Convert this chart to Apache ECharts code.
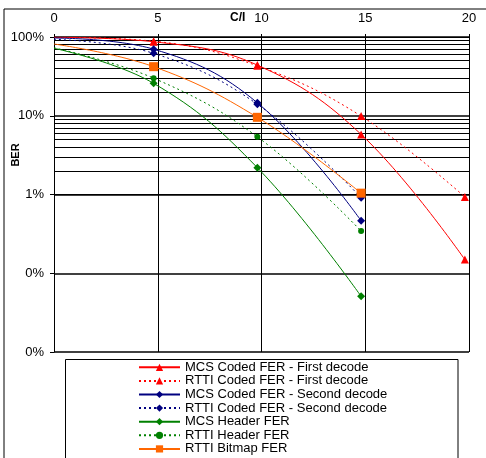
<!DOCTYPE html>
<html>
<head>
<meta charset="utf-8">
<script src="https://cdn.jsdelivr.net/npm/echarts@6/dist/echarts.min.js"></script>
<style>
html,body{margin:0;padding:0;background:#fff;}
#chart{width:486px;height:458px;}
</style>
</head>
<body>
<div id="chart"></div>
<script>
// ---- data ----
const xVals = [0, 4.8, 9.8, 14.8, 19.8];
const xTicks = [0, 5, 10, 15, 20];
const yTicks = [1, 0.1, 0.01, 0.001, 0.0001];
const mcsFirst   = [0.99, 0.87, 0.44, 0.058, 0.00149];
const rttiFirst  = [0.995, 0.885, 0.43, 0.099, 0.0093];
const mcsSecond  = [0.97, 0.70, 0.146, 0.00465];
const rttiSecond = [0.935, 0.62, 0.14, 0.0091];
const mcsHeader  = [0.72, 0.258, 0.0219, 0.00051];
const rttiHeader = [0.73, 0.30, 0.054, 0.00344];
const rttiBitmap = [0.815, 0.42, 0.0955, 0.0104];
const seriesNames = [
  'MCS Coded FER - First decode',
  'RTTI Coded FER - First decode',
  'MCS Coded FER - Second decode',
  'RTTI Coded FER - Second decode',
  'MCS Header FER',
  'RTTI Header FER',
  'RTTI Bitmap FER'
];

// minor gridlines (2..9 within each decade)
const minorGrid = [];
[0.0001, 0.001, 0.01, 0.1].forEach(d => { for (let k = 2; k <= 9; k++) minorGrid.push(+(d * k).toPrecision(3)); });

const FONT = 'Liberation Sans, Arial, sans-serif';

function pts(vals) {
  return vals.map((v, i) => i === 0 ? { value: [xVals[i], v], symbol: 'none' } : [xVals[i], v]);
}
function mk(name, vals, color, dashed, symbol, size) {
  return {
    name: name, type: 'line', smooth: 0.4, data: pts(vals), z: 5,
    symbol: symbol, symbolSize: size, showSymbol: true,
    itemStyle: { color: color },
    lineStyle: { color: color, width: 1, type: dashed ? [2, 3] : 'solid' },
    emphasis: { disabled: true }, animation: false
  };
}

const chart = echarts.init(document.getElementById('chart'), null, { renderer: 'canvas' });
chart.setOption({
  animation: false,
  backgroundColor: '#fff',
  textStyle: { fontFamily: FONT },
  grid: { left: 54, right: 17, top: 37, bottom: 106 },
  xAxis: {
    type: 'value', position: 'top', min: 0, max: 20, interval: 5,
    axisLine: { show: true, lineStyle: { color: '#000', width: 1 } },
    axisTick: { show: true, length: 3, lineStyle: { color: '#000' } },
    axisLabel: { color: '#000', fontSize: 13, fontFamily: FONT, margin: 12 },
    splitLine: { show: true, lineStyle: { color: '#000', width: 1 } }
  },
  yAxis: {
    type: 'log', logBase: 10, min: 0.0001, max: 1,
    axisLine: { show: true, lineStyle: { color: '#000', width: 1 } },
    axisTick: { show: true, length: 4, lineStyle: { color: '#000' } },
    axisLabel: { color: '#000', fontSize: 13, fontFamily: FONT, margin: 10,
      formatter: v => Math.round(v * 100) + '%' },
    splitLine: { show: true, lineStyle: { color: '#000', width: 1.6 } }
  },
  legend: {
    orient: 'vertical', left: 138, top: 360.5, padding: 0, itemGap: 0,
    itemWidth: 41, itemHeight: 9,
    data: seriesNames,
    textStyle: { color: '#000', fontSize: 13, fontFamily: FONT, lineHeight: 13.6 }
  },
  graphic: [
    { type: 'rect', shape: { x: 4, y: 9, width: 500, height: 470 }, style: { fill: 'none', stroke: '#000', lineWidth: 1 }, silent: true, z: -1 },
    { type: 'rect', shape: { x: 65.5, y: 359.5, width: 392.5, height: 120 }, style: { fill: 'none', stroke: '#000', lineWidth: 1 }, silent: true, z: -1 },
    { type: 'text', left: 230, top: 12, style: { text: 'C/I', font: 'bold 12px ' + FONT, fill: '#000' } },
    { type: 'text', x: 16, y: 155, rotation: Math.PI / 2,
      style: { text: 'BER', font: 'bold 11px ' + FONT, fill: '#000', align: 'center', verticalAlign: 'middle' } }
  ],
  series: [
    {
      name: 'minorGrid', type: 'line', data: [], z: 1, silent: true,
      markLine: {
        silent: true, symbol: ['none', 'none'], animation: false,
        label: { show: false },
        lineStyle: { color: '#000', width: 1, type: 'solid' },
        emphasis: { disabled: true },
        data: minorGrid.map(v => ({ yAxis: v }))
      }
    },
    mk(seriesNames[0], mcsFirst, '#FF0000', false, 'triangle', 8),
    mk(seriesNames[1], rttiFirst, '#FF0000', true, 'triangle', 8),
    mk(seriesNames[2], mcsSecond, '#000080', false, 'diamond', 8),
    mk(seriesNames[3], rttiSecond, '#000080', true, 'diamond', 8),
    mk(seriesNames[4], mcsHeader, '#008000', false, 'diamond', 8),
    mk(seriesNames[5], rttiHeader, '#008000', true, 'circle', 6),
    mk(seriesNames[6], rttiBitmap, '#FF6600', false, 'rect', 9)
  ]
});
</script>
</body>
</html>
